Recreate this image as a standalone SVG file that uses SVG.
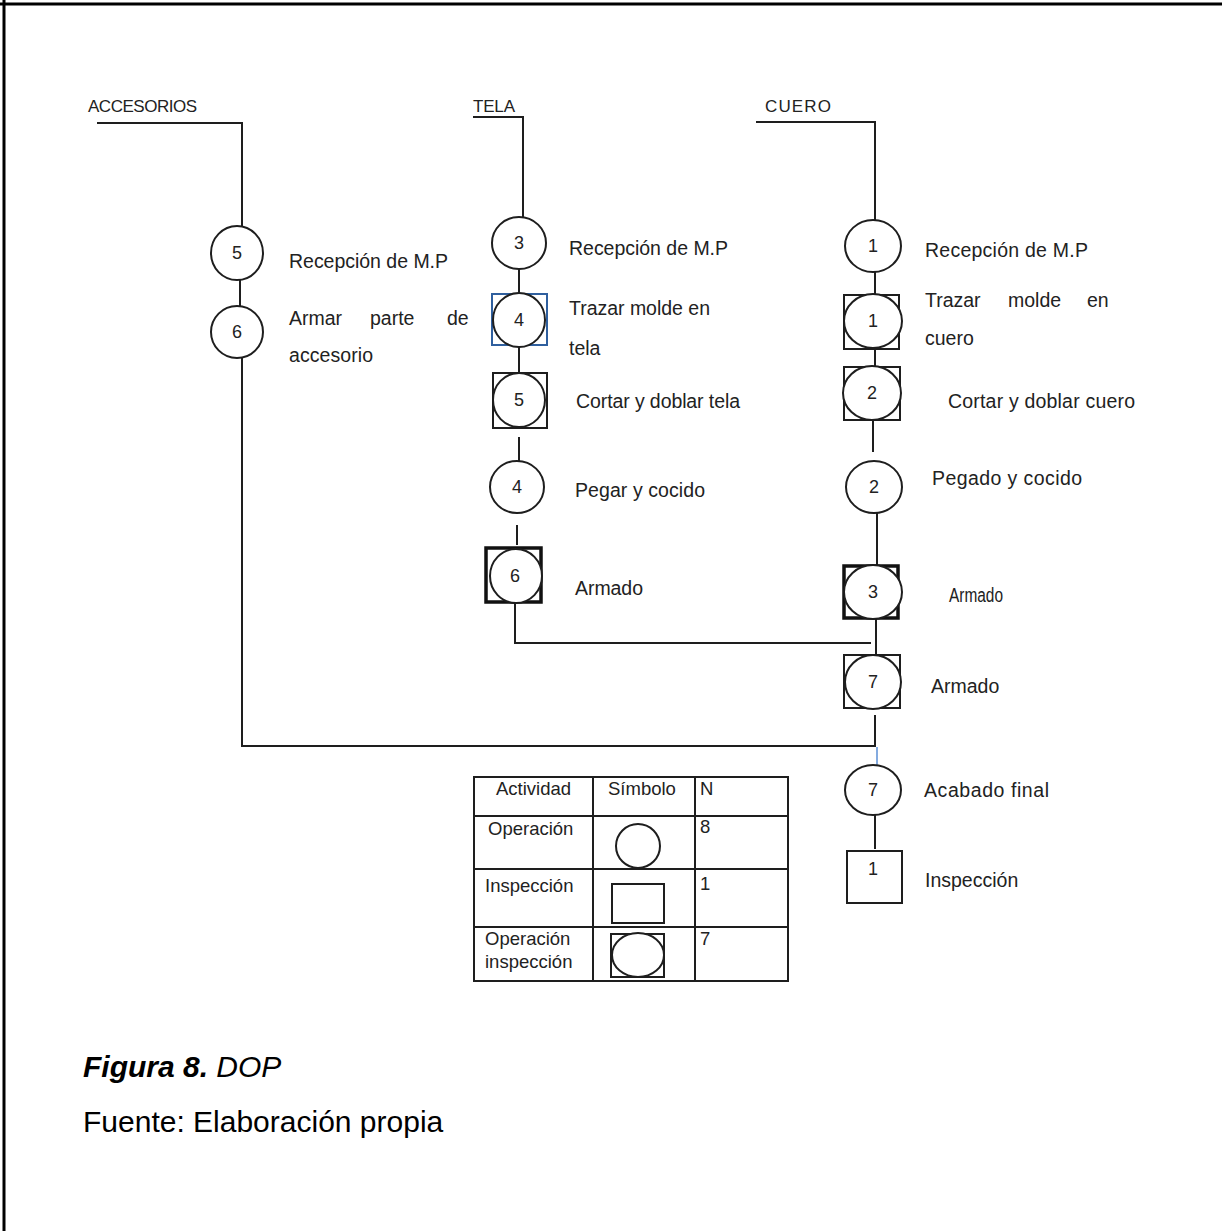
<svg xmlns="http://www.w3.org/2000/svg" width="1222" height="1231" viewBox="0 0 1222 1231">
<style>
.ln{fill:none;stroke:#1e1e1e;stroke-width:2}
.op{fill:#fff;stroke:#1e1e1e;stroke-width:2}
.sq{fill:#fff;stroke:#1e1e1e;stroke-width:2}
.sqb{fill:#fff;stroke:#111;stroke-width:3.5}
.sqblue{fill:#fff;stroke:#2f5f9e;stroke-width:2}
.lbl{font-family:"Liberation Sans",Arial,sans-serif;font-size:19.5px;fill:#222}
.num{font-family:"Liberation Sans",Arial,sans-serif;font-size:18px;fill:#222;text-anchor:middle}
.hd{font-family:"Liberation Sans",Arial,sans-serif;font-size:17px;fill:#222}
.tb{font-family:"Liberation Sans",Arial,sans-serif;font-size:18.5px;fill:#222}
.cap{font-family:"Liberation Sans",Arial,sans-serif;font-size:30px;fill:#000}
</style>
<rect x="0" y="0" width="1222" height="1231" fill="#fff"/>
<g id="frame">
<line x1="0" y1="4" x2="1222" y2="4" stroke="#000" stroke-width="3"/>
<line x1="4" y1="0" x2="4" y2="1231" stroke="#000" stroke-width="3"/>
</g>
<g id="connectors">
<polyline class="ln" points="97,123 242,123 242,226"/>
<line class="ln" x1="240" y1="280" x2="240" y2="306"/>
<polyline class="ln" points="242,358 242,746 876,746"/>
<polyline class="ln" points="473,117 523,117 523,217"/>
<line class="ln" x1="519" y1="269" x2="519" y2="294"/>
<line class="ln" x1="519" y1="346" x2="519" y2="373"/>
<line class="ln" x1="519" y1="437" x2="519" y2="461"/>
<line class="ln" x1="517" y1="525" x2="517" y2="545"/>
<polyline class="ln" points="515,603 515,643 871,643"/>
<polyline class="ln" points="756,122 875,122 875,220"/>
<line class="ln" x1="875" y1="272" x2="875" y2="295"/>
<line class="ln" x1="875" y1="349" x2="875" y2="367"/>
<line class="ln" x1="873" y1="420" x2="873" y2="452"/>
<line class="ln" x1="877" y1="513" x2="877" y2="565"/>
<line class="ln" x1="876" y1="618" x2="876" y2="655"/>
<line class="ln" x1="875" y1="715" x2="875" y2="747"/>
<line x1="877" y1="747" x2="877" y2="766" stroke="#5b8fd6" stroke-width="1.5"/>
<line class="ln" x1="875" y1="815" x2="875" y2="849"/>
</g>
<g id="headers">
<text class="hd" x="88" y="112" textLength="109">ACCESORIOS</text>
<text class="hd" x="473" y="112" textLength="42">TELA</text>
<text class="hd" x="765" y="112" textLength="66">CUERO</text>
</g>
<g id="acc-op5">
<ellipse class="op" cx="237" cy="253" rx="26" ry="27"/>
<text class="num" x="237" y="259">5</text>
<text class="lbl" x="289" y="268" textLength="159">Recepción de M.P</text>
</g>
<g id="acc-op6">
<ellipse class="op" cx="237" cy="332" rx="26" ry="26"/>
<text class="num" x="237" y="338">6</text>
<text class="lbl" y="325"><tspan x="289">Armar</tspan><tspan x="370">parte</tspan><tspan x="447">de</tspan></text>
<text class="lbl" x="289" y="362" textLength="84">accesorio</text>
</g>
<g id="tela-op3">
<ellipse class="op" cx="519" cy="243" rx="27" ry="26"/>
<text class="num" x="519" y="249">3</text>
<text class="lbl" x="569" y="255" textLength="159">Recepción de M.P</text>
</g>
<g id="tela-oi4">
<rect class="sqblue" x="492" y="294" width="55" height="51"/>
<ellipse class="op" cx="519" cy="320" rx="26" ry="27"/>
<text class="num" x="519" y="326">4</text>
<text class="lbl" x="569" y="315" textLength="141">Trazar molde en</text>
<text class="lbl" x="569" y="355">tela</text>
</g>
<g id="tela-oi5">
<rect class="sq" x="493" y="373" width="54" height="55"/>
<ellipse class="op" cx="519" cy="400" rx="26" ry="27"/>
<text class="num" x="519" y="406">5</text>
<text class="lbl" x="576" y="408" textLength="164">Cortar y doblar tela</text>
</g>
<g id="tela-op4">
<ellipse class="op" cx="517" cy="487" rx="27" ry="26"/>
<text class="num" x="517" y="493">4</text>
<text class="lbl" x="575" y="497" textLength="130">Pegar y cocido</text>
</g>
<g id="tela-oi6">
<rect class="sqb" x="486" y="548" width="55" height="54"/>
<ellipse class="op" cx="516" cy="576" rx="26" ry="27"/>
<text class="num" x="515" y="582">6</text>
<text class="lbl" x="575" y="595" textLength="68">Armado</text>
</g>
<g id="cuero-op1">
<ellipse class="op" cx="873" cy="246" rx="28" ry="26"/>
<text class="num" x="873" y="252">1</text>
<text class="lbl" x="925" y="257" textLength="163">Recepción de M.P</text>
</g>
<g id="cuero-oi1">
<rect class="sq" x="844" y="295" width="55" height="54"/>
<ellipse class="op" cx="873" cy="321" rx="29" ry="27"/>
<text class="num" x="873" y="327">1</text>
<text class="lbl" y="307"><tspan x="925">Trazar</tspan><tspan x="1008">molde</tspan><tspan x="1087">en</tspan></text>
<text class="lbl" x="925" y="345">cuero</text>
</g>
<g id="cuero-oi2">
<rect class="sq" x="844" y="367" width="56" height="53"/>
<ellipse class="op" cx="872" cy="393" rx="29" ry="27"/>
<text class="num" x="872" y="399">2</text>
<text class="lbl" x="948" y="408" textLength="187">Cortar y doblar cuero</text>
</g>
<g id="cuero-op2">
<ellipse class="op" cx="874" cy="487" rx="28" ry="26"/>
<text class="num" x="874" y="493">2</text>
<text class="lbl" x="932" y="485" textLength="150">Pegado y cocido</text>
</g>
<g id="cuero-oi3">
<rect class="sqb" x="844" y="566" width="54" height="52"/>
<ellipse class="op" cx="873" cy="592" rx="29" ry="27"/>
<text class="num" x="873" y="598">3</text>
<text class="lbl" x="949" y="602" textLength="54" lengthAdjust="spacingAndGlyphs">Armado</text>
</g>
<g id="oi7">
<rect class="sq" x="844" y="655" width="56" height="53"/>
<ellipse class="op" cx="873" cy="682" rx="28" ry="27"/>
<text class="num" x="873" y="688">7</text>
<text class="lbl" x="931" y="693">Armado</text>
</g>
<g id="op7">
<ellipse class="op" cx="873" cy="790" rx="28" ry="25"/>
<text class="num" x="873" y="796">7</text>
<text class="lbl" x="924" y="797" textLength="125">Acabado final</text>
</g>
<g id="insp1">
<rect class="sq" x="847" y="851" width="55" height="52"/>
<text class="num" x="873" y="875">1</text>
<text class="lbl" x="925" y="887">Inspección</text>
</g>
<g id="legend">
<rect x="474" y="777" width="314" height="204" fill="none" stroke="#1e1e1e" stroke-width="2"/>
<line class="ln" x1="593" y1="777" x2="593" y2="981"/>
<line class="ln" x1="695" y1="777" x2="695" y2="981"/>
<line class="ln" x1="474" y1="816" x2="788" y2="816"/>
<line class="ln" x1="474" y1="869" x2="788" y2="869"/>
<line class="ln" x1="474" y1="927" x2="788" y2="927"/>
<text class="tb" x="496" y="795">Actividad</text>
<text class="tb" x="608" y="795">Símbolo</text>
<text class="tb" x="700" y="795">N</text>
<text class="tb" x="488" y="835">Operación</text>
<ellipse class="op" cx="638" cy="846" rx="22" ry="22"/>
<text class="tb" x="700" y="833">8</text>
<text class="tb" x="485" y="892">Inspección</text>
<rect class="sq" x="612" y="884" width="52" height="39"/>
<text class="tb" x="700" y="890">1</text>
<text class="tb" x="485" y="945">Operación</text>
<text class="tb" x="485" y="968">inspección</text>
<rect class="sq" x="611" y="934" width="53" height="43"/>
<ellipse class="op" cx="638" cy="955" rx="26" ry="22"/>
<text class="tb" x="700" y="945">7</text>
</g>
<g id="caption">
<text class="cap" x="83" y="1077"><tspan font-weight="bold" font-style="italic">Figura 8.</tspan><tspan font-style="italic"> DOP</tspan></text>
<text class="cap" x="83" y="1132">Fuente: Elaboración propia</text>
</g>
</svg>
